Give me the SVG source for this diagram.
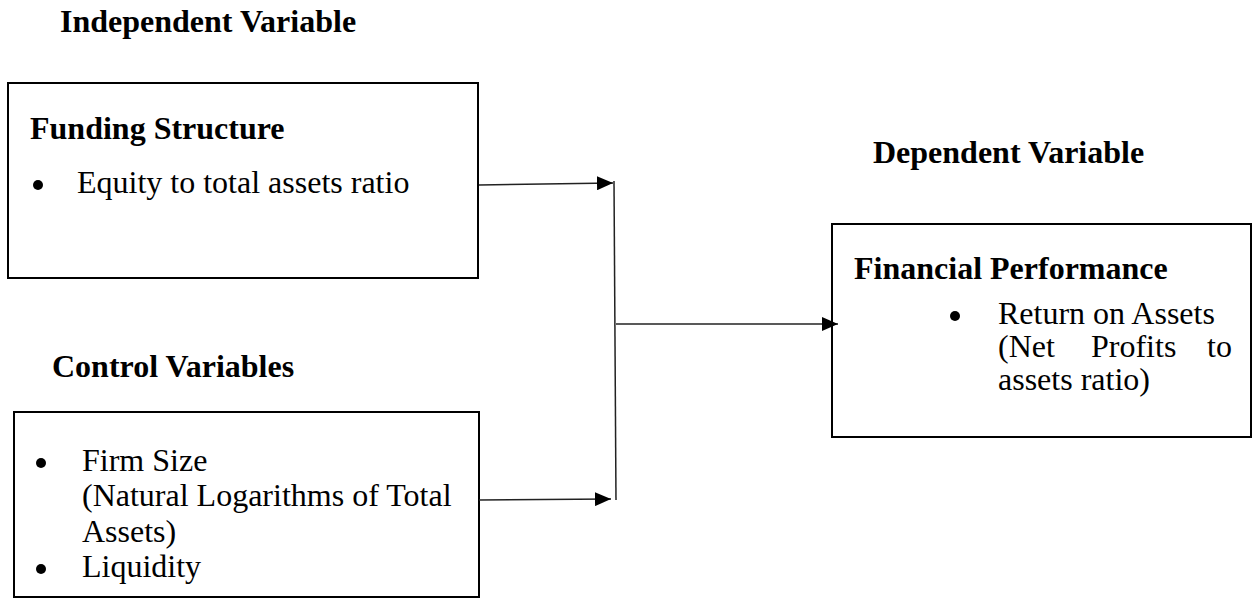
<svg xmlns="http://www.w3.org/2000/svg" width="1259" height="600" viewBox="0 0 1259 600">
<style>
text{font-family:"Liberation Serif","Times New Roman",serif;fill:#000}
.h{font-weight:bold;font-size:32px}
.t{font-size:32px}
.box{fill:#fff;stroke:#000;stroke-width:2}
.c{stroke:#222;stroke-width:1.5;fill:none}
</style>
<defs>
<marker id="a" viewBox="0 0 16 14" markerWidth="16" markerHeight="14" refX="16" refY="7" orient="auto" markerUnits="userSpaceOnUse">
<path d="M0,0 L16,7 L0,14 Z" fill="#000"/>
</marker>
</defs>
<text class="h" x="60" y="32">Independent Variable</text>
<text class="h" x="873" y="163">Dependent Variable</text>
<text class="h" x="52" y="377">Control Variables</text>
<g id="funding">
<rect class="box" x="8" y="83" width="470" height="195"/>
<text class="h" x="30" y="139">Funding Structure</text>
<circle cx="38" cy="185" r="5"/>
<text class="t" x="77" y="193">Equity to total assets ratio</text>
</g>
<g id="control">
<rect class="box" x="14" y="412" width="465" height="185"/>
<circle cx="41" cy="463" r="5"/>
<text class="t" x="82" y="471">Firm Size</text>
<text class="t" x="82" y="506">(Natural Logarithms of Total</text>
<text class="t" x="82" y="542">Assets)</text>
<circle cx="41" cy="569" r="5"/>
<text class="t" x="82" y="577">Liquidity</text>
</g>
<g id="performance">
<rect class="box" x="832" y="224" width="419" height="213"/>
<text class="h" x="854" y="279">Financial Performance</text>
<circle cx="955" cy="316" r="5"/>
<text class="t" x="998" y="324">Return on Assets</text>
<text class="t" x="998" y="357">(Net</text>
<text class="t" x="1091" y="357">Profits</text>
<text class="t" x="1232" y="357" text-anchor="end">to</text>
<text class="t" x="998" y="390">assets ratio)</text>
</g>
<g id="connectors">
<line class="c" x1="479" y1="185" x2="613" y2="183" marker-end="url(#a)"/>
<line class="c" x1="479" y1="500" x2="611" y2="499" marker-end="url(#a)"/>
<line class="c" x1="614" y1="181" x2="616" y2="500"/>
<line class="c" x1="616" y1="324" x2="838" y2="324" marker-end="url(#a)"/>
</g>
</svg>
